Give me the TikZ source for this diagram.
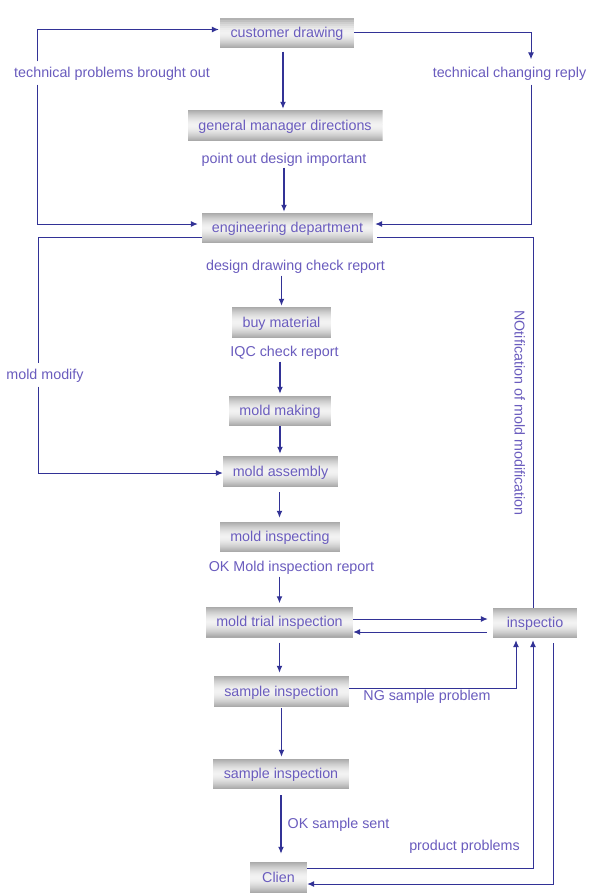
\documentclass[tikz,border=0pt]{standalone}
\usepackage{fontspec}
\setmainfont{Liberation Sans}
\usetikzlibrary{arrows.meta,calc}
\definecolor{txt}{RGB}{106,92,190}
\definecolor{ln}{RGB}{50,50,150}
\begin{document}
\begin{tikzpicture}[x=1pt,y=-1pt,
  every node/.style={font=\fontsize{14.3}{17}\selectfont, text=txt, text height=11pt, text depth=2pt},
  box/.style={minimum height=30pt, inner sep=0pt,
    path picture={
      \foreach \i in {0,...,29}{
        \pgfmathsetmacro{\tt}{(\i+0.5)/30}
        \pgfmathsetmacro{\pp}{5+30*abs(2*\tt-1)^1.6}
        \fill[black!\pp]
          ($(path picture bounding box.north west)!\i/30!(path picture bounding box.south west)$)
          rectangle
          ($(path picture bounding box.north east)!{(\i+1.05)/30}!(path picture bounding box.south east)$);
      }
    }},
  lbl/.style={inner sep=2pt},
  arr/.style={draw=ln, line width=1.3pt, -{Latex[length=7pt,width=6pt]}},
  plain/.style={draw=ln, line width=1pt},
  loop/.style={draw=ln, line width=1pt, -{Latex[length=7pt,width=6pt]}}]
\useasboundingbox (0,0) rectangle (590,894);
\fill[white] (0,0) rectangle (590,894);
% boxes
\node[box, minimum width=134pt] (cd) at (287,32.5) {customer drawing};
\node[box, minimum width=195pt, minimum height=31pt] (gm) at (285,125.5) {general manager directions};
\node[box, minimum width=171pt] (ed) at (287.5,228) {engineering department};
\node[box, minimum width=99pt, minimum height=31pt] (bm) at (281.5,322.5) {buy material};
\node[box, minimum width=102pt] (mm) at (280,411) {mold making};
\node[box, minimum width=115pt, minimum height=31pt] (ma) at (280.5,471.5) {mold assembly};
\node[box, minimum width=120pt] (mi) at (280,537) {mold inspecting};
\node[box, minimum width=147pt, minimum height=31pt] (mt) at (279.5,622) {mold trial inspection};
\node[box, minimum width=84pt] (ins) at (535,623) {inspectio};
\node[box, minimum width=135pt, minimum height=31pt] (si1) at (281.5,691.5) {sample inspection};
\node[box, minimum width=136pt] (si2) at (281,774) {sample inspection};
\node[box, minimum width=57pt, minimum height=31pt] (cl) at (278.5,877.5) {Clien};
% labels
\node[lbl, inner sep=5pt] (tpb) at (112,73) {technical problems brought out};
\node[lbl, inner sep=5pt] (tcr) at (509.5,73) {technical changing reply};
\node[lbl] (pod) at (284,159) {point out design important};
\node[lbl] (ddc) at (295.5,266) {design drawing check report};
\node[lbl] (iqc) at (284.5,352) {IQC check report};
\node[lbl] (okm) at (291.5,567) {OK Mold inspection report};
\node[lbl] (ng) at (427,696) {NG sample problem};
\node[lbl] (oks) at (338.5,824) {OK sample sent};
\node[lbl] (pp) at (464.5,846) {product problems};
\node[lbl, inner sep=5pt] (mmod) at (45,375) {mold modify};
\node[lbl, rotate=-90] (notif) at (519,413) {NOtification of mold modification};
% coordinates
\coordinate (lt) at (37,29.5);
\coordinate (lb) at (37,224);
\coordinate (rt) at (531,32.5);
\coordinate (rb) at (531,224);
\coordinate (mlt) at (38,237);
\coordinate (mlb) at (38,473);
% main vertical flow
\draw[arr] ([xshift=-4pt,yshift=-4pt]cd.south) -- ([xshift=-4pt,yshift=1pt]cd.south |- gm.north);
\draw[arr] (pod.south) -- ([yshift=1pt]pod.south |- ed.north);
\draw[arr] ([yshift=-1pt]bm.north |- ddc.south) -- ([yshift=1pt]bm.north);
\draw[arr] ([yshift=-1pt]mm.north |- iqc.south) -- ([yshift=2pt]mm.north);
\draw[arr] (mm.south) -- ([yshift=2pt]mm.south |- ma.north);
\draw[arr] ([xshift=-1pt,yshift=-5pt]ma.south) -- ([xshift=-1pt,yshift=4pt]ma.south |- mi.north);
\draw[arr] ([yshift=-1pt]mt.north |- okm.south) -- ([yshift=3pt]mt.north);
\draw[arr] ([yshift=-5pt]mt.south) -- ([yshift=3pt]mt.south |- si1.north);
\draw[arr] ([yshift=-1pt]si1.south) -- ([yshift=2pt]si1.south |- si2.north);
\draw[arr] ([yshift=-6pt]si2.south) -- ([yshift=8pt]si2.south |- cl.north);
% top loops
\draw[loop] (tpb.north -| lt) -- (lt) -- ([xshift=-1pt]lt -| cd.west);
\draw[loop] (tpb.south -| lb) -- (lb) -- ([xshift=-4pt]lb -| ed.west);
\draw[loop] (cd.east) -- (rt) -- ([yshift=2pt]tcr.north -| rt);
\draw[loop] (tcr.south -| rb) -- (rb) -- ([xshift=2pt]rb -| ed.east);
% mold modify loop
\draw[plain] (mlt -| ed.west) -- (mlt) -- (mmod.north -| mlt);
\draw[loop] (mmod.south -| mlb) -- (mlb) -- (mlb -| ma.west);
% inspection
\draw[loop, shorten >=5pt] ([yshift=3pt]mt.east) -- ([yshift=3pt]mt.east -| ins.west);
\draw[loop, shorten <=6pt] ([yshift=-10pt]mt.east -| ins.west) -- ([yshift=-10pt]mt.east);
\draw[loop, shorten >=2pt] ([yshift=3.5pt]si1.east) -| ([xshift=-19pt]ins.south);
\draw[loop, shorten >=2pt] ([yshift=9.5pt]cl.east) -| ([xshift=-2pt]ins.south);
\draw[loop] ([xshift=18pt,yshift=-5pt]ins.south) |- ([yshift=-6.5pt]cl.east);
\draw[plain] ([xshift=-2pt]ins.north) |- ([xshift=4pt,yshift=-9pt]ed.east);
\end{tikzpicture}
\end{document}
